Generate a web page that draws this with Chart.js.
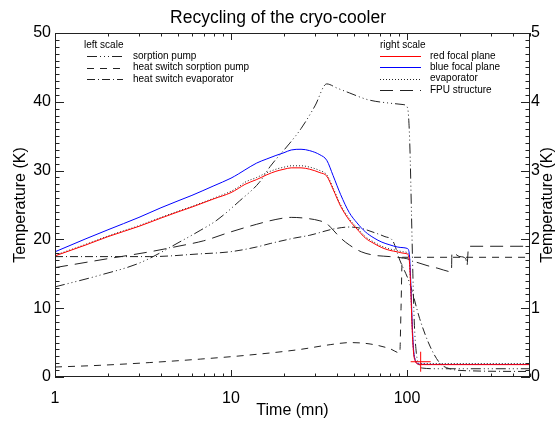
<!DOCTYPE html>
<html><head><meta charset="utf-8">
<script src="https://cdn.jsdelivr.net/npm/chart.js@4"></script>
<style>html,body{margin:0;padding:0;background:#fff;}canvas{display:block;}</style>
</head><body>
<canvas id="c" width="556" height="421"></canvas>
<script>
// ---------------- data ----------------
const chartTitle = 'Recycling of the cryo-cooler';
const xTitle = 'Time (mn)';
const yTitle = 'Temperature (K)';
const xTickValues = [1, 10, 100];
const leftLegendTitle = 'left scale';
const rightLegendTitle = 'right scale';
const leftLabels = ['sorption pump', 'heat switch sorption pump', 'heat switch evaporator'];
const rightLabels = ['red focal plane', 'blue focal plane', 'evaporator', 'FPU structure'];

// right scale (K) – focal planes and evaporator share one time grid (mn)
const fpTime = [1,1.5,2,3,4,5,6,8,10,11,12,14,16,18,20,22,25,28,32,35,38,42,47,52,58,65,72,80,88,95,100,103,105,107,109,112,116,120,140,200,300,500];
const redK  = [1.76,1.92,2.04,2.19,2.31,2.40,2.47,2.59,2.68,2.74,2.80,2.87,2.94,2.99,3.02,3.04,3.04,3.02,2.97,2.92,2.73,2.48,2.28,2.15,2.02,1.94,1.88,1.84,1.82,1.80,1.79,1.70,1.30,0.70,0.35,0.22,0.185,0.18,0.18,0.18,0.18,0.18];
const blueK = [1.82,2.01,2.14,2.32,2.46,2.56,2.64,2.78,2.89,2.95,3.01,3.11,3.17,3.22,3.26,3.30,3.31,3.29,3.23,3.15,2.93,2.65,2.39,2.24,2.11,2.02,1.96,1.92,1.89,1.88,1.87,1.80,1.40,0.80,0.40,0.23,0.19,0.185,0.182,0.182,0.182,0.182];
const evapK = [1.77,1.93,2.05,2.20,2.32,2.41,2.48,2.60,2.70,2.76,2.83,2.90,2.97,3.02,3.05,3.07,3.07,3.05,3.00,2.94,2.75,2.50,2.30,2.17,2.04,1.96,1.90,1.86,1.84,1.82,1.81,1.72,1.30,0.72,0.37,0.24,0.20,0.195,0.195,0.195,0.195,0.195];
const fpuTime = [1,2,3.46,5,7,10,14,18,22,26,32,35,37,42,47,55,65,80,95,103,110,130,150,179,180,200,216,219,224,500];
const fpuK    = [1.59,1.72,1.82,1.90,1.98,2.11,2.22,2.29,2.32,2.31,2.27,2.23,2.17,2.02,1.92,1.82,1.77,1.75,1.73,1.71,1.68,1.62,1.58,1.53,1.81,1.75,1.72,1.61,1.90,1.90];
const markTime = [119.6];
const markK = [0.222];

// left scale (K)
const spTime = [1,1.8,3.04,5.34,6.68,8.32,11.2,14.5,16.7,21.6,25,30,35,40,47,60,80,95,100,102,104,106,108,110,113,117,122,150,500];
const spK    = [13.1,14.8,16.6,19.9,21.3,22.8,25.6,28.3,30.6,34.0,36.1,39.4,42.6,42.0,41.3,40.3,39.8,39.6,39.3,38.0,33,24,15,8,3.5,1.8,1.3,1.2,1.2];
const hssTime = [1,1.8,3.46,6.68,12.8,24.6,36.6,47.4,61.7,80.2,91,92.5,94,100,500];
const hssK    = [1.45,1.7,2.1,2.6,3.2,4.0,4.7,5.0,4.8,4.1,3.5,10,17.4,17.4,17.4];
const hseTime = [1,3.46,6.68,9.87,14,16.7,23,28,38,47,55,65,75,83,91,104,118,135,154,175,228,500];
const hseK    = [17.5,17.5,17.9,18.2,18.9,19.4,20.2,20.6,21.5,21.8,21.6,21.0,20.4,19.8,17.0,13.5,8.5,4.5,2.0,1.2,0.9,0.8];

// ---------------- styles ----------------
const FONT = 'Liberation Sans, Arial, Helvetica, sans-serif';
const DASH_DOTTED = [1, 2];
const DASH_DASHED = [7, 6];
const DASH_DASHDOT = [8, 3, 1, 3];
const DASH_DASH3DOT = [10, 3, 1, 3, 1, 3, 1, 3];
const DASH_LONG = [13, 7];
const INK = '#222';

const pts = (t, v) => t.map((x, i) => ({x: x, y: v[i]}));
const lineDs = (label, t, v, axis, color, dash) => ({
  label, data: pts(t, v), yAxisID: axis, borderColor: color, borderWidth: 1,
  borderDash: dash, pointRadius: 0, fill: false, cubicInterpolationMode: 'monotone'
});

const datasets = [
  {label: 'marker', data: pts(markTime, markK), yAxisID: 'y2', showLine: false,
   pointStyle: 'cross', pointRadius: 10, borderColor: '#ff0000', backgroundColor: '#ff0000', borderWidth: 1},
  lineDs(rightLabels[0], fpTime, redK, 'y2', '#ff0000', []),
  lineDs(rightLabels[1], fpTime, blueK, 'y2', '#0000ff', []),
  lineDs(rightLabels[2], fpTime, evapK, 'y2', INK, DASH_DOTTED),
  lineDs(rightLabels[3], fpuTime, fpuK, 'y2', INK, DASH_LONG),
  lineDs(leftLabels[0], spTime, spK, 'y', INK, DASH_DASH3DOT),
  lineDs(leftLabels[1], hssTime, hssK, 'y', INK, DASH_DASHED),
  lineDs(leftLabels[2], hseTime, hseK, 'y', INK, DASH_DASHDOT)
];

const legendSpec = [
  {title: leftLegendTitle, titleX: 84, y0: 45, x0: 87, x1: 123, textX: 133, dy: 11.3,
   items: [[leftLabels[0], INK, DASH_DASH3DOT], [leftLabels[1], INK, DASH_DASHED], [leftLabels[2], INK, DASH_DASHDOT]]},
  {title: rightLegendTitle, titleX: 380, y0: 45, x0: 380, x1: 421, textX: 430, dy: 11.2,
   items: [[rightLabels[0], '#ff0000', []], [rightLabels[1], '#0000ff', []], [rightLabels[2], INK, DASH_DOTTED], [rightLabels[3], INK, DASH_LONG]]}
];

const decor = {
  id: 'decor',
  afterDatasetsDraw(chart) {
    const {ctx, chartArea: a, scales} = chart;
    ctx.save();
    ctx.strokeStyle = INK; ctx.lineWidth = 1; ctx.setLineDash([]);
    // frame
    ctx.strokeRect(a.left + 0.5, a.top + 0.5, a.right - a.left - 1, a.bottom - a.top - 1);
    ctx.beginPath();
    // left & right ticks
    for (let v = 0; v <= 50; v += 1) {
      const py = Math.round(scales.y.getPixelForValue(v)) + 0.5;
      const len = v % 10 === 0 ? 9 : 4.5;
      ctx.moveTo(a.left, py); ctx.lineTo(a.left + len, py);
    }
    for (let i = 0; i <= 50; i++) {
      const v = i / 10;
      const py = Math.round(scales.y2.getPixelForValue(v)) + 0.5;
      const len = i % 10 === 0 ? 9 : 4.5;
      ctx.moveTo(a.right, py); ctx.lineTo(a.right - len, py);
    }
    // bottom & top ticks (log)
    for (let d = 1; d <= 100; d *= 10) {
      for (let m = 1; m <= 9; m++) {
        const v = d * m;
        if (v > 500) break;
        const px = Math.round(scales.x.getPixelForValue(v)) + 0.5;
        const len = m === 1 ? 7 : 3.5;
        ctx.moveTo(px, a.bottom); ctx.lineTo(px, a.bottom - len);
        ctx.moveTo(px, a.top); ctx.lineTo(px, a.top + len);
      }
    }
    ctx.stroke();
    // legends
    ctx.fillStyle = '#000';
    ctx.font = '10px ' + FONT;
    ctx.textBaseline = 'middle';
    ctx.textAlign = 'left';
    legendSpec.forEach(L => {
      ctx.fillText(L.title, L.titleX, L.y0);
      L.items.forEach((it, k) => {
        const y = L.y0 + L.dy * (k + 1);
        ctx.strokeStyle = it[1];
        ctx.setLineDash(it[2]);
        ctx.beginPath(); ctx.moveTo(L.x0, Math.round(y) + 0.5); ctx.lineTo(L.x1, Math.round(y) + 0.5); ctx.stroke();
        ctx.setLineDash([]);
        ctx.fillText(it[0], L.textX, y);
      });
    });
    // right axis title (reads bottom to top, like the left one)
    ctx.font = '16px ' + FONT;
    ctx.textAlign = 'center';
    ctx.translate(548, (a.top + a.bottom) / 2);
    ctx.rotate(-Math.PI / 2);
    ctx.fillText(yTitle, 0, 0);
    ctx.restore();
  }
};

const tickFont = {family: FONT, size: 16};
new Chart(document.getElementById('c'), {
  type: 'line',
  data: {datasets},
  options: {
    responsive: false, animation: false, devicePixelRatio: 1,
    layout: {padding: 0},
    plugins: {
      legend: {display: false}, tooltip: {enabled: false},
      title: {display: true, text: chartTitle, color: '#000', font: {family: FONT, size: 17.5, weight: 'normal'}, padding: {top: 8, bottom: 4}}
    },
    scales: {
      x: {
        type: 'logarithmic', min: 1, max: 500, position: 'bottom',
        afterBuildTicks(s) { s.ticks = xTickValues.map(v => ({value: v, major: true})); },
        afterFit(s) { s.height = 44; },
        ticks: {callback: v => String(v), color: '#000', font: tickFont, padding: 12, maxRotation: 0, autoSkip: false},
        grid: {display: false, drawTicks: false}, border: {display: false},
        title: {display: true, text: xTitle, color: '#000', font: tickFont, padding: {top: 0, bottom: 1}}
      },
      y: {
        position: 'left', min: 0, max: 50,
        afterFit(s) { s.width = 55; },
        ticks: {stepSize: 10, color: '#000', font: tickFont, padding: 4},
        grid: {display: false, drawTicks: false}, border: {display: false},
        title: {display: true, text: yTitle, color: '#000', font: tickFont, padding: {top: 11, bottom: 0}}
      },
      y2: {
        position: 'right', min: 0, max: 5,
        afterFit(s) { s.width = 26; },
        ticks: {stepSize: 1, color: '#000', font: tickFont, padding: 1},
        grid: {display: false, drawTicks: false}, border: {display: false}
      }
    }
  },
  plugins: [decor]
});
</script>
</body></html>
